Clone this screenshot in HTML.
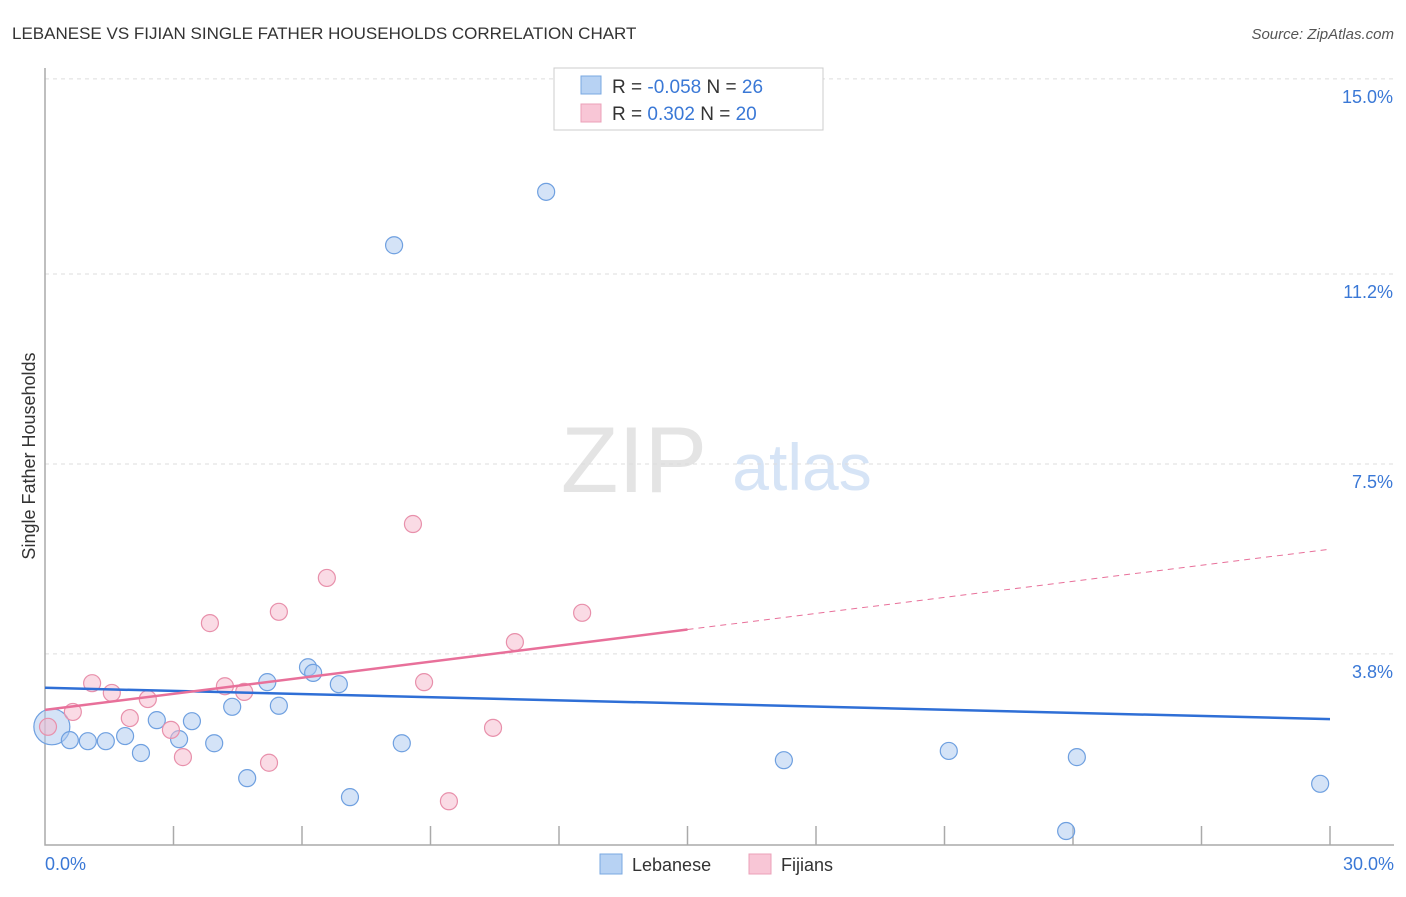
<!DOCTYPE html>
<html><head><meta charset="utf-8"><style>
body{margin:0;background:#fff;font-family:"Liberation Sans",sans-serif;}
svg text{font-family:"Liberation Sans",sans-serif;}
</style></head><body>
<svg width="1406" height="892" xmlns="http://www.w3.org/2000/svg">
<text x="12" y="39" font-size="17" fill="#333">LEBANESE VS FIJIAN SINGLE FATHER HOUSEHOLDS CORRELATION CHART</text>
<text x="1394" y="39" font-size="15" fill="#555" font-style="italic" text-anchor="end">Source: ZipAtlas.com</text>
<text x="634" y="492" font-size="94" fill="#e4e4e4" text-anchor="middle" font-family="Liberation Serif">ZIP</text>
<text x="802" y="490" font-size="66" fill="#d6e4f6" text-anchor="middle">atlas</text>
<g id="grid"></g>
<g id="axes"></g>
<g id="pts"></g>
<g id="lines"></g>
<text x="35" y="456" font-size="18" fill="#333" text-anchor="middle" transform="rotate(-90 35 456)">Single Father Households</text>
<text x="45" y="870" font-size="18" fill="#3a78d6">0.0%</text>
<text x="1394" y="870" font-size="18" fill="#3a78d6" text-anchor="end">30.0%</text>
<g>
<rect x="554" y="68" width="269" height="62" fill="#fff" stroke="#ccc"/>
<rect x="581" y="76" width="20" height="18" fill="#b7d2f3" stroke="#7aa8e2"/>
<rect x="581" y="104" width="20" height="18" fill="#f8c6d6" stroke="#eba0b8"/>
<text x="612" y="93" font-size="19" fill="#333">R = <tspan fill="#3a78d6">-0.058</tspan>   N = <tspan fill="#3a78d6">26</tspan></text>
<text x="612" y="120" font-size="19" fill="#333">R =  <tspan fill="#3a78d6"> 0.302</tspan>   N = <tspan fill="#3a78d6">20</tspan></text>
</g>
<g>
<rect x="600" y="854" width="22" height="20" fill="#b7d2f3" stroke="#7aa8e2"/>
<text x="632" y="871" font-size="18" fill="#333">Lebanese</text>
<rect x="749" y="854" width="22" height="20" fill="#f8c6d6" stroke="#eba0b8"/>
<text x="781" y="871" font-size="18" fill="#333">Fijians</text>
</g>
</svg>
<script>
const yTicks=[15.0,11.2,7.5,3.8];
const yTickLabels=["15.0%","11.2%","7.5%","3.8%"];
const lebX=[0.16,0.58,1.0,1.42,1.87,2.24,2.61,3.13,3.43,3.95,4.37,4.72,5.19,5.46,6.14,6.26,6.86,7.12,8.15,8.33,11.7,17.25,21.1,23.84,24.09,29.77];
const lebY=[2.38,2.12,2.10,2.10,2.20,1.87,2.51,2.14,2.49,2.06,2.77,1.38,3.25,2.79,3.54,3.43,3.21,1.01,11.76,2.06,12.8,1.73,1.91,0.35,1.79,1.27];
const fijX=[0.07,0.65,1.1,1.56,1.98,2.4,2.94,3.22,3.85,4.2,4.65,5.23,5.46,6.58,8.59,8.85,9.43,10.46,10.97,12.54];
const fijY=[2.38,2.67,3.23,3.04,2.55,2.92,2.32,1.79,4.40,3.17,3.06,1.68,4.62,5.28,6.33,3.25,0.93,2.36,4.03,4.60];
const lebTrend=[3.14,2.53];
const fijTrend=[2.71,5.84];
const fijSolidEnd=15;
const NS="http://www.w3.org/2000/svg";
const X=v=>45+v/30*1285, Y=v=>849-v*51.34;
function mk(tag,attrs,parent){const e=document.createElementNS(NS,tag);for(const k in attrs)e.setAttribute(k,attrs[k]);document.getElementById(parent).appendChild(e);return e;}
yTicks.forEach((t,i)=>{
 const l=mk('line',{x1:45,x2:1394,y1:Y(t),y2:Y(t),stroke:'#ddd','stroke-dasharray':'4,4'},'grid');
 
 
 const tx=mk('text',{x:1393,y:Y(t)+24,'font-size':18,fill:'#3a78d6','text-anchor':'end'},'grid');
 tx.textContent=yTickLabels[i];
 
 
});
const ax=mk('path',{d:'M45,68V845H1394',stroke:'#aaa',fill:'none','stroke-width':1.5},'axes');


for(let i=1;i<=10;i++){const t=mk('line',{x1:X(i*3),x2:X(i*3),y1:826,y2:845,stroke:'#aaa','stroke-width':1.5},'axes');
 
 }
lebX.forEach((x,i)=>{const c=mk('circle',{cx:X(x),cy:Y(lebY[i]),r:i==0?18:8.5,fill:'rgba(169,200,239,0.5)',stroke:'#6fa0e0','stroke-width':1.2},'pts');
 
 });
fijX.forEach((x,i)=>{const c=mk('circle',{cx:X(x),cy:Y(fijY[i]),r:8.5,fill:'rgba(245,184,203,0.5)',stroke:'#e890ab','stroke-width':1.2},'pts');
 
 });
const b=mk('line',{x1:X(0),y1:Y(lebTrend[0]),x2:X(30),y2:Y(lebTrend[1]),stroke:'#2f6fd6','stroke-width':2.5},'lines');


const fm=fijTrend[0]+(fijTrend[1]-fijTrend[0])*fijSolidEnd/30;
const p1=mk('line',{x1:X(0),y1:Y(fijTrend[0]),x2:X(fijSolidEnd),y2:Y(fm),stroke:'#e8709a','stroke-width':2.5},'lines');


const p2=mk('line',{x1:X(fijSolidEnd),y1:Y(fm),x2:X(30),y2:Y(fijTrend[1]),stroke:'#e8709a','stroke-width':1,'stroke-dasharray':'6,5'},'lines');


</script>
</body></html>
